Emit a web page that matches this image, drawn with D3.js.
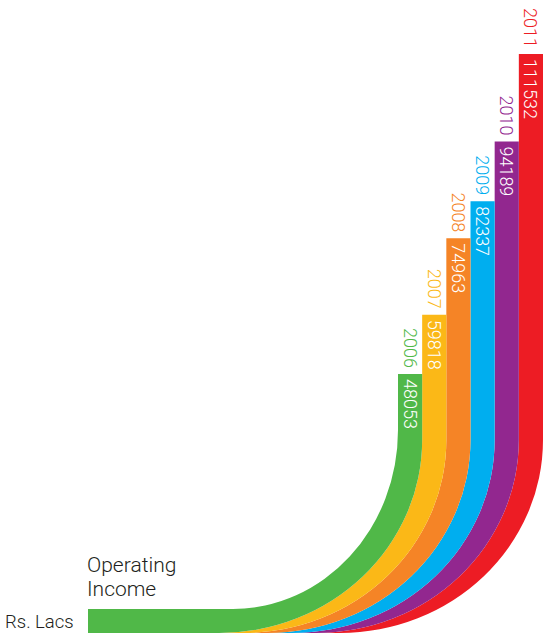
<!DOCTYPE html>
<html>
<head>
<meta charset="utf-8">
<script src="https://cdn.jsdelivr.net/npm/d3@7"></script>
<style>
  html, body { margin: 0; padding: 0; background: #fff; }
  svg { display: block; }
  text { font-family: "Roboto", "Helvetica Neue", Arial, sans-serif; font-weight: 300; }
</style>
</head>
<body>
<script>
// ---- data ----
const years  = ["2006", "2007", "2008", "2009", "2010", "2011"];
const values = [48053, 59818, 74963, 82337, 94189, 111532];
const colors = ["#50b848", "#fbb817", "#f58426", "#00aeef", "#92278f", "#ed1c24"];
const titleLines = ["Operating", "Income"];
const unitLabel = "Rs. Lacs";

// ---- layout ----
const W = 549, H = 638;
const baseY = 633;          // bottom of the fan
const startX = 88;          // left end of the first band
const colLeft = 398, colRight = 543;

const svg = d3.select("body").append("svg")
  .attr("width", W).attr("height", H);

// column positions of the vertical parts
const x = d3.scaleBand().domain(years).range([colLeft, colRight]).padding(0);
const bw = x.bandwidth();

// value -> top of the vertical part
const y = d3.scaleLinear()
  .domain([d3.min(values), d3.max(values)])
  .range([374, 54]);

// boundary k (0..n) : x of its vertical line
const n = years.length;
const boundaryX = k => (k < n ? x(years[k]) : x(years[n - 1]) + bw);

// elliptical corner of each boundary
const outerRx = 203, outerRy = 193, outerCy = 440;     // boundaries 1..n
const innerRx = 165, innerRy = 179, innerCy = 430;     // boundary 0

function corner(k) {
  if (k === 0) {
    const xv = boundaryX(0);
    return { xv, cy: innerCy, rx: innerRx, ry: innerRy, cx: xv - innerRx, by: innerCy + innerRy };
  }
  const xv = boundaryX(k);
  return { xv, cy: outerCy, rx: outerRx, ry: outerRy, cx: xv - outerRx, by: outerCy + outerRy };
}

function bandPath(i) {
  const top = y(values[i]);
  const a = corner(i), b = corner(i + 1);
  let p = `M${a.xv},${top} V${a.cy} A${a.rx},${a.ry} 0 0 1 ${a.cx},${a.by}`;
  if (i === 0) p += ` H${startX} V${baseY}`;
  p += ` H${b.cx} A${b.rx},${b.ry} 0 0 0 ${b.xv},${b.cy} V${top} Z`;
  return p;
}

const data = years.map((yr, i) => ({ year: yr, value: values[i], color: colors[i], i }));

// draw bands, outermost first
svg.append("g").selectAll("path")
  .data(data.slice().reverse())
  .join("path")
  .attr("d", d => bandPath(d.i))
  .attr("fill", d => d.color);

// value labels inside the vertical parts
svg.append("g").selectAll("text")
  .data(data)
  .join("text")
  .attr("transform", d => `translate(${x(d.year) + bw / 2},${y(d.value) + 5}) rotate(90)`)
  .attr("dy", "0.36em")
  .attr("text-anchor", "start")
  .attr("font-size", 18)
  .attr("fill", "#fff")
  .text(d => d.value);

// year labels above
svg.append("g").selectAll("text")
  .data(data)
  .join("text")
  .attr("transform", d => `translate(${x(d.year) + bw / 2},${y(d.value) - 6}) rotate(90)`)
  .attr("dy", "0.36em")
  .attr("text-anchor", "end")
  .attr("font-size", 18)
  .attr("fill", d => d.color)
  .text(d => d.year);

// title
svg.append("text")
  .attr("x", 87).attr("y", 572)
  .attr("font-size", 21).attr("fill", "#231f20")
  .selectAll("tspan").data(titleLines).join("tspan")
  .attr("x", 87).attr("dy", (d, i) => i === 0 ? 0 : 23.5)
  .text(d => d);

svg.append("text")
  .attr("x", 5).attr("y", 628)
  .attr("font-size", 18.5).attr("fill", "#231f20")
  .text(unitLabel);
</script>
</body>
</html>
